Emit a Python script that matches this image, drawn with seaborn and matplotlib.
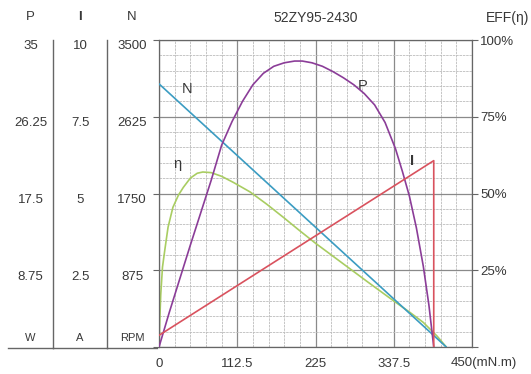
import numpy as np
import matplotlib
matplotlib.use("Agg")
import matplotlib.pyplot as plt
import seaborn as sns

# motor curve data (torque in mN.m)
torque_n = [0, 413]
speed_rpm = [3000, 0]

torque_i = [0, 395, 395]
current_a = [0.38, 6.07, 0]

torque_p = [0, 15, 30, 45, 60, 75, 90, 105, 120, 135, 150, 165, 180, 195, 206,
            220, 235, 250, 265, 280, 295, 310, 325, 340, 350, 360, 370, 380,
            388, 395]
power_w = [0, 4.0, 7.8, 11.6, 15.3, 19.0, 23.0, 25.7, 28.0, 29.9, 31.2, 32.0,
           32.4, 32.6, 32.6, 32.4, 32.0, 31.4, 30.7, 29.9, 28.9, 27.6, 25.6,
           22.6, 20.0, 17.2, 13.6, 9.2, 4.8, 0]

torque_eff = [0, 1, 2.5, 5, 8.6, 13, 20, 28, 35, 45, 55, 63, 75, 90, 107, 131,
              155, 179, 200, 225, 250, 275, 300, 337.5, 360, 380, 400, 413]
eff_pct = [0, 8, 17, 26, 32, 39, 45.5, 49.5, 52, 55, 56.6, 57, 56.8, 55.6,
           53.6, 50.5, 46.5, 42.2, 38.3, 33.8, 29.6, 25.4, 21.2, 15.0, 11.4,
           8.0, 3.5, 0]

x_ticks = [0, 112.5, 225, 337.5, 450]
x_labels = ["0", "112.5", "225", "337.5", ""]
eff_ticks = [0, 25, 50, 75, 100]
eff_labels = ["", "25%", "50%", "75%", "100%"]
p_ticks = [8.75, 17.5, 26.25, 35]
p_labels = ["8.75", "17.5", "26.25", "35"]
i_ticks = [2.5, 5, 7.5, 10]
i_labels = ["2.5", "5", "7.5", "10"]
n_ticks = [875, 1750, 2625, 3500]
n_labels = ["875", "1750", "2625", "3500"]

sns.set_style("white")
plt.rcParams["font.family"] = ["Liberation Sans", "DejaVu Sans"]
plt.rcParams["font.size"] = 9

W, H = 531, 374
fig = plt.figure(figsize=(W / 100, H / 100), dpi=100)


def box(x0, y0, x1, y1):
    return [x0 / W, 1 - y1 / H, (x1 - x0) / W, (y1 - y0) / H]


TXT = "#383838"
LINE = "#666666"

# main chart (efficiency scale 0-100 %)
ax = fig.add_axes(box(159, 40, 472, 347))
sns.lineplot(x=torque_eff, y=eff_pct, ax=ax, color="#a9cd62", lw=1.2,
             sort=False, estimator=None)

ax_n = ax.twinx()
ax_n.set_ylim(0, 3500)
sns.lineplot(x=torque_n, y=speed_rpm, ax=ax_n, color="#3b9cc2", lw=1.2,
             sort=False, estimator=None)
ax_p = ax.twinx()
ax_p.set_ylim(0, 35)
sns.lineplot(x=torque_p, y=power_w, ax=ax_p, color="#8b3d98", lw=1.2,
             sort=False, estimator=None)
ax_i = ax.twinx()
ax_i.set_ylim(0, 10)
sns.lineplot(x=torque_i, y=current_a, ax=ax_i, color="#d9525e", lw=1.2,
             sort=False, estimator=None)
for a in (ax_n, ax_p, ax_i):
    a.set_yticks([])
    a.set_ylabel("")
    for s in a.spines.values():
        s.set_visible(False)

ax.set_xlim(0, 450)
ax.set_ylim(0, 100)
ax.set_xticks(x_ticks)
ax.set_xticklabels(x_labels, color=TXT, fontsize=9.5)
ax.set_xticks(np.arange(0, 451, 22.5), minor=True)
ax.set_yticks(eff_ticks)
ax.set_yticklabels(eff_labels, color=TXT, fontsize=9.5)
ax.set_yticks(np.arange(0, 101, 5), minor=True)
ax.grid(which="major", color="#8a8a8a", lw=0.9)
ax.grid(which="minor", color="#bdbdbd", lw=0.6, ls=(0, (3, 1)))
ax.set_axisbelow(True)
ax.tick_params(axis="both", which="major", direction="out", length=4,
               width=0.8, color=LINE)
ax.tick_params(axis="x", pad=4)
ax.tick_params(axis="y", left=True, right=True, labelleft=False,
               labelright=True, pad=2)
ax.tick_params(which="minor", length=0, left=False, right=False, bottom=False)
for s in ax.spines.values():
    s.set_color(LINE)
    s.set_linewidth(0.9)
ax.annotate("450(mN.m)", xy=(450, 0), xytext=(-15, -7), textcoords="offset points",
            ha="left", va="top", color=TXT, fontsize=9.5, annotation_clip=False)

ax.text(41, 84, "N", fontsize=10.5, color=TXT, ha="center", va="center")
ax.text(293, 85, "P", fontsize=10.5, color=TXT, ha="center", va="center")
ax.text(364, 60.5, "I", fontsize=10.5, color=TXT, ha="center", va="center",
        fontweight="bold")
ax.text(27, 59.5, "η", fontsize=10.5, color=TXT, ha="center", va="center")

ax.text(0.5, (347 - 18) / 307, "52ZY95-2430", transform=ax.transAxes,
        ha="center", va="center", color=TXT, fontsize=10)
ax.text(1.115, (347 - 18) / 307, "EFF(η)", transform=ax.transAxes,
        ha="center", va="center", color=TXT, fontsize=10)

# left scale columns
columns = [
    ((8, 53), (0, 35), p_ticks, p_labels, "P", "W", True),
    ((53, 107), (0, 10), i_ticks, i_labels, "I", "A", True),
    ((107, 157), (0, 3500), n_ticks, n_labels, "N", "RPM", False),
]
for (x0, x1), lim, ticks, labels, head, unit, sep in columns:
    c = fig.add_axes(box(x0, 40, x1, 348))
    c.set_facecolor("none")
    c.set_ylim(*lim)
    c.set_xticks([])
    c.set_yticks(ticks)
    c.set_yticklabels(labels, color=TXT, fontsize=9.5)
    c.tick_params(axis="y", length=0, pad=-(x1 - x0) / 2 * 0.72)
    for lbl in c.get_yticklabels():
        lbl.set_ha("center")
        lbl.set_va("top")
    c.spines["left"].set_visible(False)
    c.spines["top"].set_visible(False)
    c.spines["right"].set_visible(sep)
    for s in ("right", "bottom"):
        c.spines[s].set_color(LINE)
        c.spines[s].set_linewidth(1.0)
    c.text(0.5, (348 - 17) / 308, head, transform=c.transAxes, ha="center",
           va="center", color=TXT, fontsize=9.5,
           fontweight="bold" if head == "I" else "normal")
    c.text(0.5, (348 - 338) / 308, unit, transform=c.transAxes, ha="center",
           va="center", color=TXT, fontsize=8)

fig.savefig("out.png", dpi=100)
